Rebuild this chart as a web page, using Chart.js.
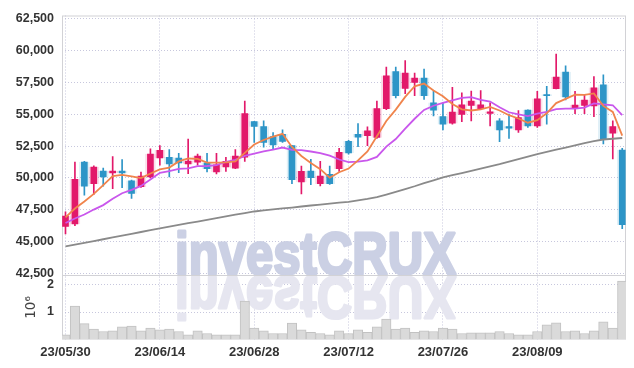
<!DOCTYPE html>
<html>
<head>
<meta charset="utf-8">
<script src="https://cdn.jsdelivr.net/npm/chart.js@4.4.0/dist/chart.umd.min.js"></script>
<style>
  html, body { margin: 0; padding: 0; background: #fff; }
  #wrap { width: 634px; height: 368px; }
</style>
</head>
<body>
<div id="wrap"><canvas id="chart" width="634" height="368"></canvas></div>
<script>
// trading days shown on the x axis
const dates = [
  '23/05/30', '23/05/31', '23/06/01', '23/06/02', '23/06/05', '23/06/07', '23/06/08', '23/06/09', '23/06/12', '23/06/13',
  '23/06/14', '23/06/15', '23/06/16', '23/06/19', '23/06/20', '23/06/21', '23/06/22', '23/06/23', '23/06/26', '23/06/27',
  '23/06/28', '23/06/29', '23/06/30', '23/07/03', '23/07/04', '23/07/05', '23/07/06', '23/07/07', '23/07/10', '23/07/11',
  '23/07/12', '23/07/13', '23/07/14', '23/07/17', '23/07/18', '23/07/19', '23/07/20', '23/07/21', '23/07/24', '23/07/25',
  '23/07/26', '23/07/27', '23/07/28', '23/07/31', '23/08/01', '23/08/02', '23/08/03', '23/08/04', '23/08/07', '23/08/08',
  '23/08/09', '23/08/10', '23/08/11', '23/08/14', '23/08/16', '23/08/17', '23/08/18', '23/08/21', '23/08/22', '23/08/23'
];
const dateTicks = [0, 10, 20, 30, 40, 50];
const priceTicks = [42500, 45000, 47500, 50000, 52500, 55000, 57500, 60000, 62500];
const volumeTicks = [1000000, 2000000];

const opens = [
  46200, 46400, 51250, 49550, 50550, 50390, 50550, 49770, 49310, 50080,
  51580, 51630, 51560, 51110, 51250, 51190, 50470, 50860, 50780, 51630,
  54430, 54040, 53260, 53420, 52540, 49690, 50550, 49560, 50290, 50730,
  52880, 53420, 53320, 53190, 55440, 58360, 57040, 57510, 57840, 55900,
  54820, 54300, 54990, 55690, 55440, 55070, 54480, 54040, 53780, 55340,
  54090, 56550, 57010, 58310, 55460, 55690, 55650, 57320, 53520, 52200
];
const highs = [
  47350, 51250, 51300, 50950, 50780, 51690, 51450, 49830, 50470, 52280,
  52540, 52230, 51940, 53050, 51870, 51940, 51940, 51630, 52230, 56030,
  54450, 54480, 53570, 53780, 52550, 50940, 51460, 51300, 50940, 52330,
  52950, 54270, 54020, 56030, 58700, 58700, 59220, 58230, 58540, 56810,
  55900, 57120, 56680, 56830, 56860, 55900, 54660, 55010, 55300, 55360,
  56810, 57200, 59730, 58800, 56810, 56550, 57970, 58100, 54480, 52330
];
const lows = [
  45600, 46250, 48650, 48700, 49360, 49170, 49230, 48400, 49250, 50000,
  51000, 50080, 50420, 50340, 51010, 50470, 50310, 50520, 50730, 51300,
  52800, 52410, 52230, 52800, 49560, 48740, 49480, 49380, 49500, 50520,
  51870, 52460, 52540, 53100, 55360, 56290, 56620, 56470, 56160, 54870,
  53780, 54220, 54430, 54480, 55400, 54080, 52850, 53100, 53570, 53960,
  53960, 54220, 56990, 56130, 55050, 55050, 54820, 52670, 51500, 46020
];
const closes = [
  47000, 49900, 49350, 50850, 50080, 50550, 50390, 48790, 50140, 51870,
  52180, 51110, 51190, 51320, 51710, 50730, 51040, 51300, 51710, 55050,
  54040, 52800, 52590, 52880, 49870, 50520, 50030, 50140, 49560, 52020,
  51970, 53210, 53700, 55440, 58020, 56470, 58230, 57840, 56470, 55320,
  54220, 55180, 55750, 56030, 55750, 55200, 53770, 53910, 54740, 54090,
  56210, 56470, 57920, 56370, 55720, 56110, 57070, 53050, 54040, 46330
];
const volumes = [
  170000, 1220000, 580000, 380000, 290000, 320000, 460000, 490000, 320000, 420000,
  350000, 380000, 290000, 170000, 320000, 220000, 170000, 170000, 170000, 1400000,
  420000, 320000, 220000, 220000, 600000, 350000, 260000, 220000, 170000, 320000,
  220000, 350000, 260000, 460000, 740000, 380000, 420000, 260000, 320000, 290000,
  420000, 380000, 220000, 240000, 240000, 240000, 290000, 220000, 170000, 170000,
  290000, 530000, 610000, 290000, 320000, 220000, 320000, 640000, 420000, 2130000
];

// moving averages as drawn on the chart
const ma5 = [
  46900, 47600, 48150, 48750, 49440, 50150, 50240, 50130, 49990, 50350,
  50670, 50820, 51300, 51530, 51500, 51210, 51200, 51220, 51300, 51970,
  52630, 52980, 53240, 53470, 52440, 51730, 51180, 50690, 50020, 50450,
  50740, 51380, 52090, 53270, 54470, 55370, 56370, 57200, 57410, 56870,
  56420, 55810, 55390, 55300, 55390, 55580, 55300, 54930, 54670, 54340,
  54540, 55080, 55880, 56210, 56540, 56520, 56640, 55660, 55190, 53320
];
const ma10 = [
  46470, 46820, 47130, 47520, 47870, 48370, 48800, 49070, 49380, 49890,
  50410, 50530, 50720, 50760, 50930, 50940, 51010, 51260, 51420, 51730,
  51920, 52090, 52230, 52390, 52200, 52180, 52080, 51960, 51750, 51450,
  51240, 51280, 51390, 51650, 52460, 53060, 53880, 54650, 55340, 55670,
  55890, 56090, 56290, 56350, 56130, 56000, 55550, 55160, 54990, 54860,
  55060, 55190, 55410, 55440, 55440, 55530, 55860, 55780, 55710, 54930
];
const ma60 = [
  44630, 44770, 44910, 45050, 45190, 45330, 45480, 45620, 45760, 45910,
  46050, 46180, 46310, 46450, 46580, 46710, 46850, 46990, 47120, 47250,
  47370, 47450, 47530, 47610, 47680, 47760, 47840, 47910, 47990, 48060,
  48130, 48240, 48360, 48500, 48700, 48910, 49130, 49350, 49590, 49810,
  50040, 50220, 50390, 50560, 50740, 50910, 51080, 51280, 51480, 51680,
  51870, 52050, 52220, 52390, 52560, 52730, 52890, 53020, 53080, 53140
];

const upColor = '#e2196a';
const downColor = '#2d95c7';
const gridColor = 'rgba(180,180,210,0.75)';
const frameColor = '#d2d2d6';
const tickColor = '#333';

const candleColors = closes.map((c, i) => (c >= opens[i] ? upColor : downColor));
// faint halo seen around each candle
const haloColors = closes.map((c, i) => (c >= opens[i] ? 'rgba(226,25,106,0.14)' : 'rgba(45,149,199,0.14)'));
const xy = (arr) => arr.map((v, i) => ({ x: i, y: v }));
const fixTicks = (values) => (s) => { s.ticks = values.map((v) => ({ value: v })); };

const yFont = { family: '"Liberation Sans", Arial, sans-serif', size: 12.5, weight: 'bold' };
const xFont = { family: '"Liberation Sans", Arial, sans-serif', size: 13, weight: 'bold' };

// logo with mirrored reflection, plus the frame around both panels
const backdrop = {
  id: 'backdrop',
  beforeDatasetsDraw(chart) {
    const { ctx, chartArea, scales } = chart;
    const base = scales.y.bottom;
    const x = chartArea.left + 113;
    const text = 'investCRUX';
    ctx.save();
    ctx.beginPath();
    ctx.rect(chartArea.left, chartArea.top, chartArea.width, chartArea.height);
    ctx.clip();
    ctx.font = 'bold 60px "Liberation Sans", Arial, sans-serif';
    ctx.textBaseline = 'alphabetic';
    ctx.lineJoin = 'round';
    const sx = 281 / ctx.measureText(text).width;
    ctx.translate(x, base - 1);
    ctx.scale(sx, 1);
    ctx.fillStyle = 'rgb(203,208,228)';
    ctx.strokeStyle = 'rgb(203,208,228)';
    ctx.lineWidth = 3;
    ctx.strokeText(text, 0, 0);
    ctx.fillText(text, 0, 0);
    ctx.translate(0, 3);
    ctx.scale(1, -1);
    ctx.fillStyle = 'rgb(230,230,240)';
    ctx.strokeStyle = 'rgb(230,230,240)';
    ctx.strokeText(text, 0, 0);
    ctx.fillText(text, 0, 0);
    ctx.restore();

    ctx.save();
    ctx.strokeStyle = frameColor;
    ctx.lineWidth = 1;
    ctx.strokeRect(chartArea.left + 0.5, chartArea.top + 0.5, chartArea.width - 1, chartArea.height - 1);
    ctx.beginPath();
    ctx.moveTo(chartArea.left, Math.round(base) + 0.5);
    ctx.lineTo(chartArea.right, Math.round(base) + 0.5);
    ctx.stroke();
    ctx.restore();
  }
};

new Chart(document.getElementById('chart'), {
  type: 'bar',
  data: {
    datasets: [
      {
        type: 'line', label: 'MA5', data: xy(ma5), yAxisID: 'y',
        borderColor: '#f0844c', borderWidth: 1.8, pointRadius: 0, tension: 0, order: 0
      },
      {
        type: 'line', label: 'MA10', data: xy(ma10), yAxisID: 'y',
        borderColor: '#c957ec', borderWidth: 1.8, pointRadius: 0, tension: 0, order: 0
      },
      {
        type: 'line', label: 'MA60', data: xy(ma60), yAxisID: 'y',
        borderColor: '#8a8a8a', borderWidth: 1.8, pointRadius: 0, tension: 0, order: 0
      },
      {
        label: 'body', data: opens.map((o, i) => ({ x: i, y: [o, closes[i]] })), yAxisID: 'y',
        backgroundColor: candleColors, barThickness: 6, grouped: false, order: 1
      },
      {
        label: 'wick', data: lows.map((l, i) => ({ x: i, y: [l, highs[i]] })), yAxisID: 'y',
        backgroundColor: candleColors, barThickness: 1, grouped: false, order: 2
      },
      {
        label: 'halo', data: lows.map((l, i) => ({ x: i, y: [Math.min(opens[i], closes[i]), Math.max(opens[i], closes[i])] })), yAxisID: 'y',
        backgroundColor: 'rgba(0,0,0,0)', borderColor: haloColors, borderWidth: 2, borderSkipped: false,
        barThickness: 10, grouped: false, order: 2
      },
      {
        label: 'volume', data: xy(volumes), yAxisID: 'y2',
        backgroundColor: '#dadada', borderColor: '#c2c2c2', borderWidth: 1,
        barPercentage: 1, categoryPercentage: 1, grouped: false, order: 3
      }
    ]
  },
  options: {
    responsive: false,
    animation: false,
    layout: { padding: { top: 11.5, right: 8, left: 0, bottom: 0 } },
    plugins: { legend: { display: false }, tooltip: { enabled: false } },
    scales: {
      x: {
        type: 'linear', min: -0.37, max: 59.4, offset: false,
        grid: { offset: false, color: gridColor, drawTicks: false },
        border: { display: false, dash: [1, 2] },
        afterBuildTicks: fixTicks(dateTicks),
        ticks: {
          autoSkip: false, maxRotation: 0,
          callback: (v) => dates[v] || '', font: xFont, color: tickColor, padding: 5
        },
        afterFit: (s) => { s.height = 28.5; }
      },
      y: {
        position: 'left', stack: 'panels', stackWeight: 263.2, weight: 2,
        min: 42345, max: 62756,
        grid: { color: gridColor, drawTicks: false },
        border: { display: false, dash: [1, 2] },
        afterBuildTicks: fixTicks(priceTicks),
        ticks: {
          autoSkip: false,
          callback: (v) => v.toLocaleString('en-US'), font: yFont, color: tickColor, padding: 8
        },
        afterFit: (s) => { s.width = 62; }
      },
      y2: {
        position: 'left', stack: 'panels', stackWeight: 64.8, weight: 1,
        min: 0, max: 2330000,
        grid: { color: gridColor, drawTicks: false },
        border: { display: false, dash: [1, 2] },
        afterBuildTicks: fixTicks(volumeTicks),
        ticks: {
          autoSkip: false,
          callback: (v) => String(v / 1000000), font: yFont, color: tickColor, padding: 8
        },
        title: {
          display: true, text: '10⁶', color: '#444',
          font: { family: '"DejaVu Sans", sans-serif', size: 13.5 }, padding: { top: 23, bottom: 0 }
        },
        afterFit: (s) => { s.width = 62; }
      }
    }
  },
  plugins: [backdrop]
});
</script>
</body>
</html>
